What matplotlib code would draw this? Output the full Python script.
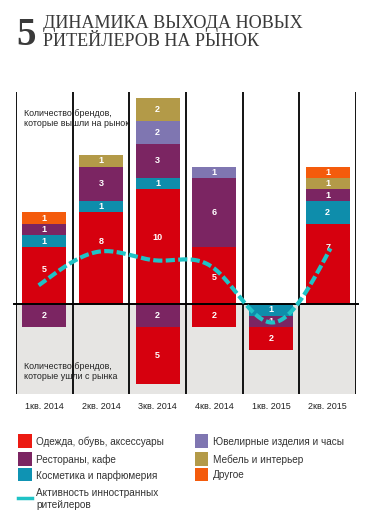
import numpy as np
import matplotlib
matplotlib.use("Agg")
import matplotlib.pyplot as plt
from matplotlib.patches import Rectangle
from matplotlib.lines import Line2D

# ---------------- data ----------------
quarters = ['1кв. 2014', '2кв. 2014', '3кв. 2014', '4кв. 2014', '1кв. 2015', '2кв. 2015']

# brands that entered the market (positive stack, bottom to top)
clothing_in = [5, 8, 10, 5, 0, 7]
cosmetics_in = [1, 1, 1, 0, 0, 2]
restaurants_in = [1, 3, 3, 6, 0, 1]
jewelry_in = [0, 0, 2, 1, 0, 0]
furniture_in = [0, 1, 2, 0, 0, 1]
other_in = [1, 0, 0, 0, 0, 1]

# brands that left the market (negative stack, from baseline down)
cosmetics_out = [0, 0, 0, 0, 1, 0]
restaurants_out = [2, 0, 2, 0, 1, 0]
clothing_out = [0, 0, 5, 2, 2, 0]

# activity of foreign retailers (smoothed line)
activity = [2.0, 4.6, 3.8, 3.1, -1.6, 4.4]

cat_names = ['Одежда, обувь, аксессуары', 'Рестораны, кафе', 'Косметика и парфюмерия',
             'Ювелирные изделия и часы', 'Мебель и интерьер', 'Другое']
line_name = 'Активность инностранных\nритейлеров'

# ---------------- style ----------------
RED = '#d6000e'
PURPLE = '#7b2562'
TEAL = '#0e8dab'
LAV = '#7f76b1'
GOLD = '#b39a48'
ORANGE = '#f45b0c'
LINEC = '#1fc3c6'
BG = '#e6e5e3'
TXT = '#333333'

SANS = ['Liberation Sans', 'DejaVu Sans']
SERIF = ['Liberation Serif', 'DejaVu Serif']

# label position (fraction of segment height) for red entering segments
red_label_frac = [0.61, 0.68, 0.585, 0.47, 0.5, 0.71]

W, H = 387, 521
fig = plt.figure(figsize=(W / 100, H / 100), dpi=100)
ax = fig.add_axes([16 / W, 1 - 394 / H, 340 / W, 302 / H])
ax.set_xlim(0, 6)
ax.set_ylim(-7.84, 18.5)
for s in ax.spines.values():
    s.set_visible(False)
ax.set_yticks([])

n = len(quarters)
x = np.arange(n) + 0.5
bw = 0.78

# gray background below baseline
ax.axhspan(-7.84, 0, color=BG, zorder=0, lw=0)
# vertical separators
for b in range(n + 1):
    ax.axvline(b, color='black', lw=1.3, zorder=1)

pos_series = [(clothing_in, RED), (cosmetics_in, TEAL), (restaurants_in, PURPLE),
              (jewelry_in, LAV), (furniture_in, GOLD), (other_in, ORANGE)]
bottom = np.zeros(n)
for k, (vals, col) in enumerate(pos_series):
    v = np.array(vals, dtype=float)
    ax.bar(x, v, bw, bottom=bottom, color=col, zorder=3, lw=0)
    for i in range(n):
        if v[i] > 0:
            frac = red_label_frac[i] if k == 0 else 0.5
            ax.text(x[i], bottom[i] + v[i] * frac, str(int(v[i])), color='white',
                    fontsize=6.5, fontweight='bold', ha='center', va='center',
                    family=SANS, zorder=5)
    bottom += v

neg_series = [(cosmetics_out, TEAL), (restaurants_out, PURPLE), (clothing_out, RED)]
bottom = np.zeros(n)
for vals, col in neg_series:
    v = np.array(vals, dtype=float)
    ax.bar(x, -v, bw, bottom=bottom, color=col, zorder=3, lw=0)
    for i in range(n):
        if v[i] > 0:
            ax.text(x[i], bottom[i] - v[i] / 2, str(int(v[i])), color='white',
                    fontsize=6.5, fontweight='bold', ha='center', va='center',
                    family=SANS, zorder=5)
    bottom -= v

# baseline
ax.plot([-0.03, 6.03], [0, 0], color='black', lw=1.4, zorder=4, clip_on=False)


# natural cubic spline through activity points
def natural_spline(xs, ys, xq):
    xs = np.asarray(xs, float)
    ys = np.asarray(ys, float)
    m = len(xs)
    h = np.diff(xs)
    A = np.zeros((m, m))
    r = np.zeros(m)
    A[0, 0] = 1
    A[-1, -1] = 1
    for i in range(1, m - 1):
        A[i, i - 1] = h[i - 1]
        A[i, i] = 2 * (h[i - 1] + h[i])
        A[i, i + 1] = h[i]
        r[i] = 3 * ((ys[i + 1] - ys[i]) / h[i] - (ys[i] - ys[i - 1]) / h[i - 1])
    c = np.linalg.solve(A, r)
    b = np.zeros(m - 1)
    d = np.zeros(m - 1)
    for i in range(m - 1):
        b[i] = (ys[i + 1] - ys[i]) / h[i] - h[i] * (2 * c[i] + c[i + 1]) / 3
        d[i] = (c[i + 1] - c[i]) / (3 * h[i])
    idx = np.clip(np.searchsorted(xs, xq) - 1, 0, m - 2)
    dx = xq - xs[idx]
    return ys[idx] + b[idx] * dx + c[idx] * dx ** 2 + d[idx] * dx ** 3


xq = np.linspace(x[0] - 0.1, x[-1] + 0.05, 300)
yq = natural_spline(x, activity, xq)
ax.plot(xq, yq, color=LINEC, lw=3, ls=(0, (2.2, 0.8)), zorder=6,
        dash_capstyle='butt')

# annotations
ax.text(0.14, 16.15, 'Количество брендов,\nкоторые вышли на рынок', fontsize=6.4,
        color='#222222', family=SANS, ha='left', va='center', linespacing=1.15, zorder=2)
ax.text(0.14, -5.9, 'Количество брендов,\nкоторые ушли с рынка', fontsize=6.4,
        color='#222222', family=SANS, ha='left', va='center', linespacing=1.15, zorder=2)

ax.set_xticks(x)
ax.set_xticklabels(quarters, fontsize=6.5, color='#222222', family=SANS)
ax.tick_params(axis='x', length=0, pad=6)

# title
fig.text(16.5 / W, 1 - 45 / H, '5', fontsize=28, fontweight='bold', family=SERIF,
         color='#3a3a3a', ha='left', va='baseline')
fig.text(43 / W, 1 - 28 / H, 'ДИНАМИКА ВЫХОДА НОВЫХ', fontsize=13.1, family=SERIF,
         color='#3a3a3a', ha='left', va='baseline')
fig.text(43 / W, 1 - 45.7 / H, 'РИТЕЙЛЕРОВ НА РЫНОК', fontsize=13.1, family=SERIF,
         color='#3a3a3a', ha='left', va='baseline')

# legend (manual)
leg_colors = ['#ec1a12', PURPLE, '#0f93b3', LAV, GOLD, ORANGE]
col_x = [18.3, 195]
row_y = [434, 452, 467.5]
for j, (name, col) in enumerate(zip(cat_names, leg_colors)):
    cx = col_x[j // 3]
    ry = row_y[j % 3]
    fig.patches.append(Rectangle((cx / W, 1 - (ry + 13.5) / H), 13.5 / W, 13.5 / H,
                                 transform=fig.transFigure, color=col, lw=0))
    fig.text((cx + 18) / W, 1 - (ry + 7.8) / H, name, fontsize=7.2, family=SANS,
             color=TXT, ha='left', va='center')
fig.lines.append(Line2D([18.3 / W, 31.8 / W], [1 - 497.7 / H, 1 - 497.7 / H],
                        transform=fig.transFigure, color=LINEC, lw=2.5))
fig.text(36 / W, 1 - 499 / H, line_name, fontsize=7.2, family=SANS, color=TXT,
         ha='left', va='center', linespacing=1.3)

fig.savefig('out.png', dpi=100)
